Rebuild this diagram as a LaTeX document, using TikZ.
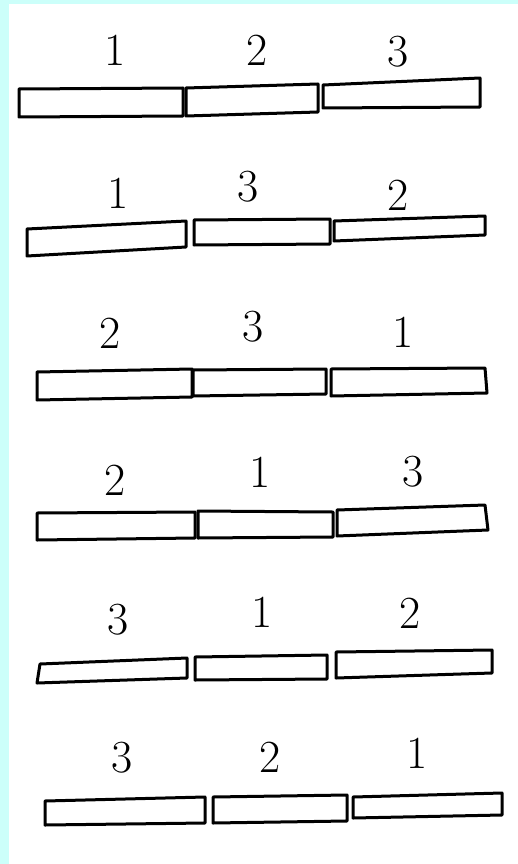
\documentclass[tikz,border=0pt]{standalone}
\usepackage{fontspec}
\definecolor{bgcyan}{RGB}{204,255,250}
\begin{document}
\begin{tikzpicture}[x=1pt,y=-1pt,
  bar/.style={draw=black,line width=3pt,line join=round,fill=white},
  digit/.style={inner sep=0pt,font=\fontsize{46}{46}\selectfont}]
\useasboundingbox (0,0) rectangle (518,864);
\fill[bgcyan] (0,0) rectangle (518,864);
\fill[white] (9,4) rectangle (518,864);
% Row 1
\draw[bar] (19,89) -- (183,88) -- (183,116) -- (19,117) -- cycle;
\draw[bar] (186,88) -- (318,84) -- (318,112) -- (186,116) -- cycle;
\draw[bar] (323,85) -- (480,78) -- (480,107) -- (323,108) -- cycle;
\node[digit] (r1a) at (115,50) {1};
\node[digit] (r1b) at (257,50) {2};
\node[digit] (r1c) at (398,52) {3};
% Row 2
\draw[bar] (27,229) -- (186,221) -- (186,247) -- (27,256) -- cycle;
\draw[bar] (194,220) -- (330,219) -- (330,244) -- (194,245) -- cycle;
\draw[bar] (334,221) -- (485,216) -- (485,235) -- (334,241) -- cycle;
\node[digit] (r2a) at (118,193) {1};
\node[digit] (r2b) at (248,187) {3};
\node[digit] (r2c) at (398,195) {2};
% Row 3
\draw[bar] (37,372) -- (192,369) -- (192,397) -- (37,400) -- cycle;
\draw[bar] (193,370) -- (326,369) -- (326,394) -- (193,396) -- cycle;
\draw[bar] (331,369) -- (485,368) -- (487,393) -- (331,396) -- cycle;
\node[digit] (r3a) at (110,333) {2};
\node[digit] (r3b) at (253,327) {3};
\node[digit] (r3c) at (403,332) {1};
% Row 4
\draw[bar] (37,513) -- (195,512) -- (195,538) -- (37,540) -- cycle;
\draw[bar] (198,511) -- (333,512) -- (333,537) -- (198,538) -- cycle;
\draw[bar] (337,510) -- (485,505) -- (488,530) -- (337,536) -- cycle;
\node[digit] (r4a) at (115,480) {2};
\node[digit] (r4b) at (260,472) {1};
\node[digit] (r4c) at (413,472) {3};
% Row 5
\draw[bar] (40,664) -- (187,658) -- (187,678) -- (37,683) -- cycle;
\draw[bar] (195,657) -- (327,655) -- (327,679) -- (195,680) -- cycle;
\draw[bar] (336,652) -- (492,650) -- (492,673) -- (336,678) -- cycle;
\node[digit] (r5a) at (118,620) {3};
\node[digit] (r5b) at (262,612) {1};
\node[digit] (r5c) at (410,613) {2};
% Row 6
\draw[bar] (45,801) -- (205,797) -- (205,823) -- (45,825) -- cycle;
\draw[bar] (213,797) -- (347,795) -- (347,821) -- (213,823) -- cycle;
\draw[bar] (353,797) -- (502,793) -- (502,815) -- (353,818) -- cycle;
\node[digit] (r6a) at (122,758) {3};
\node[digit] (r6b) at (270,757) {2};
\node[digit] (r6c) at (417,753) {1};
\end{tikzpicture}
\end{document}
